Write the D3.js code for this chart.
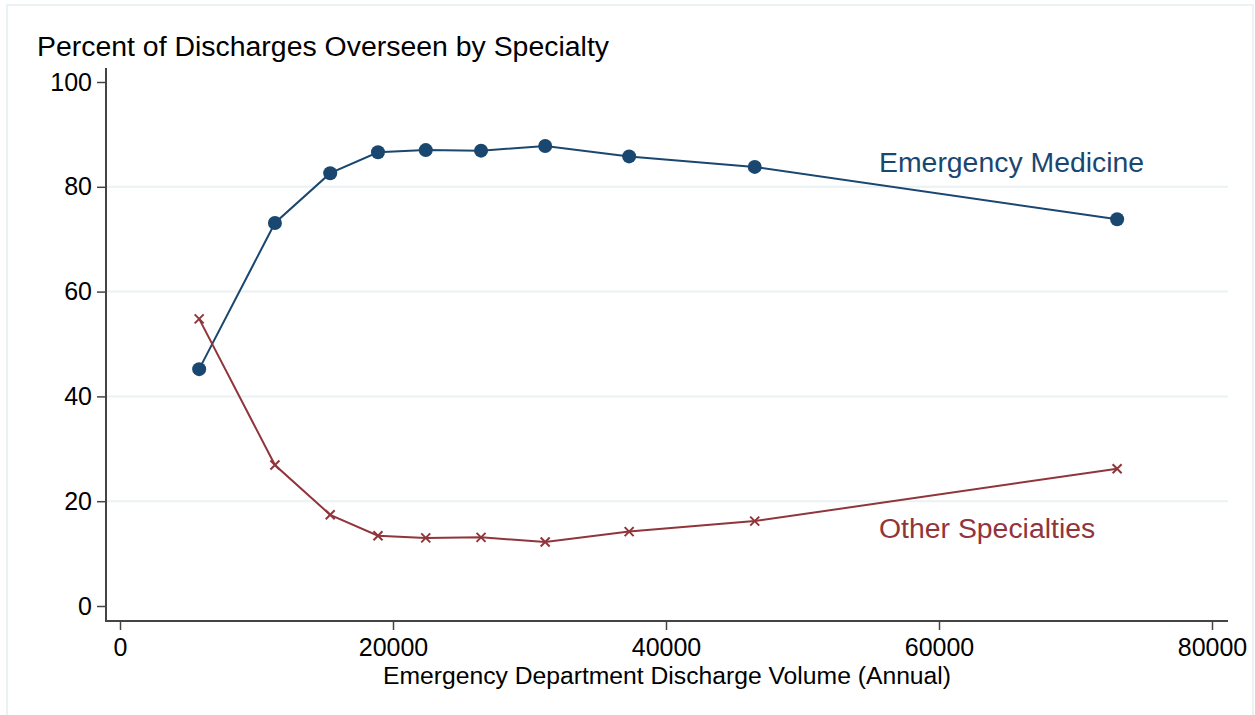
<!DOCTYPE html>
<html>
<head>
<meta charset="utf-8">
<script src="https://cdn.jsdelivr.net/npm/d3@7"></script>
<style>
  body { margin: 0; background: #fff; }
  svg { display: block; font-family: "Liberation Sans", Arial, sans-serif; }
</style>
</head>
<body>
<script>
// discharge volume (annual) for each group of EDs
const volume = [5800, 11350, 15400, 18900, 22400, 26450, 31150, 37300, 46500, 73050];
const emergencyMed = [45.2, 73.1, 82.6, 86.6, 87.0, 86.9, 87.8, 85.8, 83.8, 73.8];
const otherSpec = [54.8, 26.9, 17.4, 13.4, 13.0, 13.1, 12.2, 14.2, 16.2, 26.2];
const xTicks = [0, 20000, 40000, 60000, 80000];
const yTicks = [0, 20, 40, 60, 80, 100];

const w = 1255;
const h = 715;
const blue = "#1a476f";
const red = "#90353b";
const axisCol = "#444";

const svg = d3.select("body").append("svg").attr("width", w).attr("height", h);

// outer graph region border
svg.append("rect")
  .attr("x", 7).attr("y", 5)
  .attr("width", 1246).attr("height", 720)
  .attr("fill", "#fff")
  .attr("stroke", "#eaf2f3")
  .attr("stroke-width", 2);

const x = d3.scaleLinear().domain([0, 80000]).range([120, 1212]);
const y = d3.scaleLinear().domain([0, 100]).range([606, 82]);

const pLeft = 106, pRight = 1228, pTop = 68, pBottom = 621;

// gridlines
svg.append("g")
  .selectAll("line")
  .data(yTicks.filter((d) => d > 0 && d < 100))
  .enter()
  .append("line")
  .attr("x1", pLeft).attr("x2", pRight)
  .attr("y1", (d) => y(d)).attr("y2", (d) => y(d))
  .attr("stroke", "#eaf2f3")
  .attr("stroke-width", 2);

// y axis
const yAxis = svg.append("g")
  .attr("transform", `translate(${pLeft},0)`)
  .call(d3.axisLeft(y).tickValues(yTicks).tickSize(9).tickPadding(5).tickFormat(d3.format("d")));
yAxis.select(".domain").remove();
yAxis.selectAll(".tick line").attr("stroke", axisCol).attr("stroke-width", 1.5);
yAxis.selectAll(".tick text").attr("fill", "#000").style("font-size", "25px")
  .style("font-family", "Liberation Sans, Arial, sans-serif");

// x axis
const xAxis = svg.append("g")
  .attr("transform", `translate(0,${pBottom})`)
  .call(d3.axisBottom(x).tickValues(xTicks).tickSize(9).tickPadding(8).tickFormat(d3.format("d")));
xAxis.select(".domain").remove();
xAxis.selectAll(".tick line").attr("stroke", axisCol).attr("stroke-width", 1.5);
xAxis.selectAll(".tick text").attr("fill", "#000").style("font-size", "25px")
  .style("font-family", "Liberation Sans, Arial, sans-serif");

svg.append("path")
  .attr("d", `M${pLeft},${pTop}V${pBottom}H${pRight}`)
  .attr("fill", "none")
  .attr("stroke", axisCol)
  .attr("stroke-width", 2);

const line = d3.line().x((d) => x(d[0])).y((d) => y(d[1]));
const em = volume.map((v, i) => [v, emergencyMed[i]]);
const ot = volume.map((v, i) => [v, otherSpec[i]]);

svg.append("path").datum(em)
  .attr("d", line).attr("fill", "none")
  .attr("stroke", blue).attr("stroke-width", 2);
svg.append("path").datum(ot)
  .attr("d", line).attr("fill", "none")
  .attr("stroke", red).attr("stroke-width", 2);

svg.selectAll(".dot")
  .data(em)
  .enter()
  .append("circle")
  .attr("class", "dot")
  .attr("cx", (d) => x(d[0]))
  .attr("cy", (d) => y(d[1]))
  .attr("r", 7)
  .attr("fill", blue);

const s = 4.5;
svg.selectAll(".cross")
  .data(ot)
  .enter()
  .append("path")
  .attr("class", "cross")
  .attr("d", (d) => {
    const cx = x(d[0]), cy = y(d[1]);
    return `M${cx - s},${cy - s}L${cx + s},${cy + s}M${cx - s},${cy + s}L${cx + s},${cy - s}`;
  })
  .attr("stroke", red)
  .attr("stroke-width", 2);

// titles
svg.append("text")
  .attr("x", 37).attr("y", 56)
  .attr("textLength", 572)
  .attr("lengthAdjust", "spacingAndGlyphs")
  .style("font-size", "27px")
  .text("Percent of Discharges Overseen by Specialty");

svg.append("text")
  .attr("x", 667).attr("y", 684)
  .attr("text-anchor", "middle")
  .style("font-size", "24.7px")
  .text("Emergency Department Discharge Volume (Annual)");

svg.append("text")
  .attr("x", 879).attr("y", 172)
  .attr("fill", blue)
  .style("font-size", "28.4px")
  .text("Emergency Medicine");

svg.append("text")
  .attr("x", 879).attr("y", 538)
  .attr("fill", red)
  .style("font-size", "28.4px")
  .text("Other Specialties");
</script>
</body>
</html>
